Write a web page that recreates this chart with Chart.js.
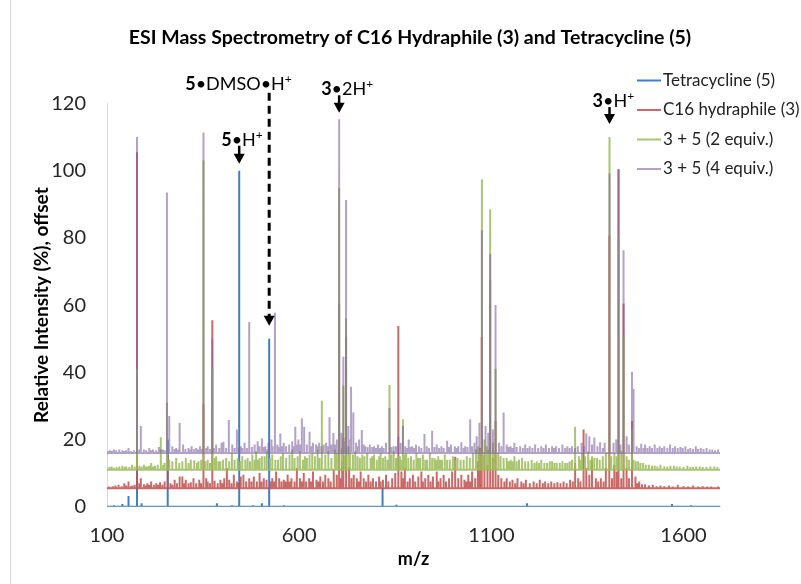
<!DOCTYPE html>
<html>
<head>
<meta charset="utf-8">
<script src="https://cdn.jsdelivr.net/npm/chart.js@4.4.1/dist/chart.umd.min.js"></script>
<style>
  html, body { margin: 0; padding: 0; background: #fff; }
  #wrap { width: 801px; height: 584px; position: relative; }
</style>
</head>
<body>
<div id="wrap"><canvas id="ms-chart" width="801" height="584"></canvas></div>
<script>
// ---- Data (m/z, relative intensity %) ----
const chartTitle = 'ESI Mass Spectrometry of C16 Hydraphile (3) and Tetracycline (5)';
const seriesNames = ['Tetracycline (5)', 'C16 hydraphile (3)', '3 + 5 (2 equiv.)', '3 + 5 (4 equiv.)'];
const seriesOffsets = [0, 5.5, 11, 16];
const xRange = [100, 1695];
const xTicks = [100, 600, 1100, 1600];
const yTicks = [0, 20, 40, 60, 80, 100, 120];

const tetracycline = [
    [118, 0.4], [140, 0.8], [156, 3.2], [178, 15], [190, 1], [210, 0.3], [258, 20], [300, 0.3],
    [386, 1], [425, 0.4], [444, 100], [480, 0.4], [503, 1], [522, 50], [560, 0.4], [817, 5.5],
    [853, 0.6], [1000, 0.3], [1193, 1], [1400, 0.3], [1570, 0.8], [1620, 0.4]
];

const hydraphile = [
    [106, 0.5], [115, 0.6], [122, 0.8], [130, 1], [138, 0.6], [145, 1.5], [150, 0.8], [156, 2],
    [162, 0.6], [166, 0.8], [172, 1], [178, 100], [184, 1.5], [188, 3], [196, 1.2], [200, 0.8],
    [205, 1.5], [210, 1], [215, 2], [222, 1], [228, 1.5], [233, 1], [238, 1.8], [244, 1],
    [250, 2], [258, 10], [265, 1.5], [270, 1], [276, 2.5], [282, 1.5], [289, 3.5], [296, 3.5],
    [300, 1.5], [305, 2.5], [312, 1.5], [318, 1.8], [325, 3], [332, 1.5], [340, 2.5], [345, 1.5],
    [351, 25], [358, 3], [362, 2], [368, 1.5], [374, 50], [380, 2.2], [388, 1.5], [395, 2.5],
    [400, 1.5], [405, 3], [412, 6], [418, 2.5], [424, 1.5], [430, 4], [438, 2], [443, 1.5],
    [448, 3.5], [455, 4], [462, 2], [470, 3], [476, 2], [482, 3.5], [490, 2], [497, 4.5],
    [502, 2], [508, 3], [515, 2.5], [526, 2], [530, 3], [535, 2], [540, 5], [548, 3],
    [554, 2], [560, 2.5], [565, 2], [570, 4], [575, 2], [580, 3], [588, 2], [594, 6],
    [602, 3], [607, 2], [612, 4.5], [618, 2], [626, 3], [631, 2], [636, 5], [645, 2.5],
    [650, 2], [655, 3.5], [662, 2], [668, 4], [676, 3], [682, 2], [690, 5.5], [698, 4],
    [704, 55], [708, 3], [712, 8], [715, 15], [722, 45], [730, 6], [736, 3], [742, 4],
    [750, 3], [755, 2], [760, 5], [768, 3], [774, 2], [780, 4], [786, 2], [792, 3],
    [800, 2], [808, 3.5], [812, 2], [818, 2.5], [826, 4], [832, 2], [842, 3], [850, 4.5],
    [858, 48.3], [866, 5], [870, 3], [875, 6], [882, 2], [888, 3], [896, 4], [902, 2],
    [910, 3.5], [918, 5], [922, 2], [928, 3], [936, 4], [942, 2], [948, 3.5], [958, 5],
    [962, 2], [968, 3], [976, 4], [982, 2], [990, 3], [998, 5], [1006, 9.4], [1014, 3],
    [1022, 4], [1030, 2.5], [1035, 2], [1040, 4], [1045, 2], [1050, 5], [1058, 3], [1065, 8],
    [1070, 12], [1075, 45], [1082, 10], [1090, 7], [1097, 62], [1104, 9], [1111, 20], [1118, 4],
    [1126, 3], [1134, 2], [1140, 3], [1148, 2], [1155, 2.5], [1162, 1.5], [1168, 3], [1178, 2],
    [1184, 1.5], [1190, 2.5], [1200, 1.5], [1210, 2], [1218, 1.5], [1226, 2.5], [1234, 1.5], [1240, 2],
    [1248, 1.5], [1256, 2], [1264, 1.5], [1272, 1.8], [1280, 1.5], [1288, 2], [1296, 1.5], [1305, 2.5],
    [1312, 2], [1318, 7.5], [1326, 3], [1332, 2], [1340, 17.5], [1347, 6], [1355, 4], [1362, 8],
    [1372, 3], [1378, 2], [1385, 3], [1392, 2], [1398, 6], [1407, 75], [1414, 3], [1420, 7],
    [1426, 5], [1431, 95], [1438, 3], [1444, 55], [1452, 6], [1458, 3], [1466, 20], [1475, 3.5],
    [1480, 1.5], [1485, 2], [1492, 1.2], [1500, 1.2], [1510, 0.8], [1520, 1], [1530, 0.6], [1540, 0.8],
    [1550, 0.6], [1562, 0.8], [1572, 0.5], [1585, 1], [1600, 0.6], [1612, 0.5], [1625, 0.8], [1638, 0.5],
    [1650, 0.6], [1662, 0.5], [1672, 0.5], [1690, 0.5]
];

const mix2equiv = [
    [106, 0.8], [112, 1], [118, 0.6], [125, 0.8], [132, 1], [140, 1.2], [146, 0.8], [150, 1],
    [158, 0.8], [165, 1.5], [172, 1], [178, 30], [184, 1.2], [190, 1], [196, 1.5], [200, 1],
    [205, 1], [210, 1.2], [215, 2], [220, 1], [225, 1.2], [232, 1.5], [240, 9.7], [246, 1.5],
    [250, 2], [256, 20], [262, 3], [270, 2.5], [280, 3.5], [288, 2], [296, 2.5], [305, 3.5],
    [312, 2], [318, 3], [327, 2.8], [334, 2], [338, 2.5], [345, 3], [351, 92], [356, 2.5],
    [362, 3], [368, 2], [374, 30], [380, 3.5], [384, 4], [390, 2.5], [395, 2.5], [402, 3],
    [410, 3.5], [418, 2.5], [425, 5], [432, 3], [440, 3.5], [446, 2.5], [452, 4], [460, 3],
    [466, 3.5], [472, 2.5], [478, 4.5], [484, 3], [488, 5.5], [492, 3], [497, 3.5], [503, 4],
    [510, 4], [516, 6], [524, 3.5], [530, 4.5], [538, 3], [545, 3], [552, 4], [558, 5],
    [566, 3.5], [575, 4.5], [582, 6], [588, 3.5], [596, 4], [602, 5.5], [610, 3], [615, 4],
    [620, 3.5], [627, 4.5], [634, 5], [641, 4], [648, 6], [653, 3.5], [659, 20.5], [668, 4.5],
    [676, 5.5], [684, 3.5], [693, 6], [698, 5], [704, 83.8], [711, 6.5], [715, 25], [718, 4],
    [722, 45], [728, 7], [732, 5], [740, 4.5], [746, 5.5], [752, 4], [758, 3.5], [764, 4.5],
    [770, 4], [777, 5], [786, 3.5], [790, 4], [795, 4.5], [802, 3], [808, 4], [812, 5],
    [818, 3.5], [824, 4], [830, 3], [835, 25.2], [840, 4.5], [846, 5.5], [852, 3.5], [857, 4],
    [862, 4], [866, 3], [870, 15], [875, 4.5], [878, 5], [884, 3.5], [891, 4], [898, 3],
    [905, 5], [910, 3.5], [915, 3.5], [922, 4.5], [928, 3], [933, 3], [940, 5], [946, 3.5],
    [952, 3.5], [957, 3], [962, 4], [967, 3], [972, 3], [979, 4.5], [985, 3], [992, 3],
    [1000, 4], [1006, 3], [1012, 3.5], [1020, 3], [1028, 3], [1036, 4], [1044, 3.5], [1052, 5],
    [1060, 6], [1066, 7], [1070, 6], [1075.5, 86.4], [1082, 9], [1088, 7], [1092, 6], [1097, 77.5],
    [1104, 8], [1108, 5], [1111, 30], [1118, 5], [1124, 4], [1132, 3.5], [1140, 3.5], [1145, 2.5],
    [1150, 3], [1155, 2.5], [1160, 4], [1166, 2.5], [1172, 3], [1180, 3.5], [1188, 2.5], [1196, 2.5],
    [1205, 3], [1212, 2], [1218, 2.5], [1224, 2], [1230, 3], [1238, 2], [1245, 2], [1252, 2.5],
    [1258, 2.5], [1264, 2], [1270, 2], [1278, 2], [1285, 2.5], [1292, 2], [1298, 2], [1304, 2.5],
    [1310, 3], [1318, 12.8], [1328, 4], [1332, 3], [1336, 5], [1344, 4], [1352, 5.5], [1358, 3],
    [1362, 4], [1368, 3.5], [1375, 3.5], [1382, 3], [1390, 4], [1398, 5], [1407.5, 99], [1412, 4],
    [1420, 5], [1426, 4], [1431, 70], [1438, 5.5], [1444, 40], [1452, 4], [1458, 3], [1466, 12],
    [1470, 3], [1476, 2.5], [1482, 2.5], [1488, 2], [1495, 2], [1502, 1.5], [1510, 1.5], [1518, 1.2],
    [1525, 1.2], [1532, 1], [1540, 1.5], [1550, 1], [1558, 1], [1566, 1.2], [1575, 1.2], [1582, 1],
    [1590, 1], [1600, 0.8], [1610, 1.2], [1618, 0.8], [1625, 0.8], [1633, 1], [1642, 1], [1650, 0.8],
    [1660, 0.8], [1670, 1], [1680, 1], [1688, 0.8]
];

const mix4equiv = [
    [104, 0.6], [108, 0.8], [113, 0.6], [118, 1], [124, 0.8], [132, 1], [140, 0.8], [145, 0.6],
    [150, 0.8], [156, 1.5], [162, 0.6], [170, 0.8], [178, 94], [184, 1], [188, 8], [196, 1],
    [202, 0.8], [210, 1.5], [215, 0.8], [220, 1], [228, 0.8], [235, 1.8], [240, 1], [245, 1],
    [250, 0.8], [256, 77.5], [262, 11], [270, 2], [276, 1.2], [280, 1.5], [284, 1], [289, 9],
    [298, 2.5], [304, 1.2], [312, 1.5], [316, 1], [320, 2], [326, 1.2], [332, 1.5], [337, 1],
    [342, 2], [346, 1.2], [351, 95.4], [358, 1.5], [362, 2], [368, 1.2], [374, 34], [378, 1.5],
    [384, 2.5], [392, 1.5], [398, 3], [403, 3.3], [410, 1.5], [417, 9.8], [426, 2.5], [432, 1.5],
    [438, 7], [444, 1.5], [448, 2], [452, 1.5], [458, 3], [464, 1.5], [470, 39], [477, 1.8],
    [484, 2.5], [492, 3.5], [497, 2], [503, 4.3], [508, 1.8], [512, 2], [520, 3], [528, 4],
    [531, 2], [537, 41.7], [543, 2.5], [548, 1.8], [551, 5.8], [556, 2], [560, 3], [566, 2],
    [574, 2.5], [582, 3.5], [586, 2], [590, 7.8], [594, 2.5], [598, 4], [602, 2.5], [607, 10.3],
    [613, 7.8], [620, 2.5], [627, 6.3], [632, 2], [636, 3], [644, 2.5], [648, 2], [652, 3],
    [658, 2], [664, 2.5], [670, 3], [674, 2], [679, 10.6], [684, 2.5], [689, 5.9], [694, 2.5],
    [698, 4], [704, 99.3], [710, 6], [715, 28.6], [718, 3.5], [722, 75.3], [728, 8], [731, 4],
    [735, 19.7], [741, 12], [748, 3], [752, 2], [756, 4], [763, 6.8], [768, 2.5], [772, 2],
    [778, 1.8], [784, 2.5], [790, 1.8], [795, 2], [800, 1.5], [805, 2.5], [810, 1.5], [815, 2],
    [820, 1.5], [826, 3], [835, 13.4], [840, 1.8], [846, 2], [852, 2], [858, 4.8], [864, 3],
    [870, 8], [876, 2], [881, 1.5], [885, 4], [890, 1.8], [894, 2], [899, 1.5], [904, 2.5],
    [912, 2], [918, 1.5], [926, 5.6], [932, 2], [938, 1.5], [946, 6.6], [952, 1.8], [958, 2.5],
    [964, 1.5], [970, 2], [976, 1.5], [985, 3.6], [990, 1.8], [995, 2.5], [1005, 2], [1010, 1.5],
    [1014, 2], [1022, 3.2], [1028, 1.5], [1032, 2], [1038, 1.8], [1045, 10], [1050, 2], [1056, 3],
    [1062, 5], [1069, 9], [1075.5, 66.3], [1085, 8], [1092, 6], [1097, 59.2], [1104, 7], [1111, 44],
    [1120, 3], [1126, 2], [1132, 12], [1140, 2.5], [1145, 1.8], [1150, 2], [1155, 1.5], [1160, 3],
    [1166, 1.8], [1175, 2], [1182, 1.5], [1188, 2.5], [1194, 1.5], [1200, 2], [1207, 1.5], [1214, 2.5],
    [1222, 1.5], [1230, 2], [1236, 1.5], [1242, 2.5], [1250, 1.5], [1258, 2], [1263, 1.5], [1268, 2],
    [1276, 1.5], [1285, 2.5], [1292, 1.5], [1298, 2], [1304, 1.5], [1310, 2], [1318, 1.5], [1325, 2],
    [1335, 3], [1341, 2], [1347, 5.8], [1355, 5], [1362, 2.5], [1368, 4.6], [1376, 2], [1383, 3.2],
    [1390, 1.5], [1395, 3], [1407.5, 83.2], [1418, 3], [1425, 4], [1431, 84.2], [1436, 2.5], [1444, 60.3],
    [1452, 5], [1458, 2.5], [1466, 24.2], [1470, 19], [1478, 2], [1484, 1.5], [1490, 2.7], [1496, 1.5],
    [1500, 2.5], [1506, 1.5], [1512, 2], [1518, 1.5], [1525, 2.5], [1532, 1.5], [1538, 2], [1544, 1.5],
    [1550, 2], [1558, 1.5], [1565, 2.5], [1572, 1.5], [1578, 2], [1585, 1.5], [1592, 1.8], [1598, 1.5],
    [1605, 2], [1612, 1.2], [1618, 1.5], [1625, 1.2], [1632, 2], [1638, 1.2], [1645, 1.5], [1652, 1.2],
    [1660, 1.5], [1668, 1], [1675, 1], [1682, 0.8], [1690, 1]
];

const seriesPeaks = [tetracycline, hydraphile, mix2equiv, mix4equiv];
const seriesColors = ['rgba(66,126,200,1)', 'rgba(192,80,77,0.85)', 'rgba(155,187,89,0.85)', 'rgba(128,100,162,0.6)'];

// labelled peaks; dx/dy etc. are pixel offsets from the peak top
const peakCallouts = [
    { mz: 444, series: 0, parts: [['5', 1], ['•', 0], ['H', 0], ['+', 2]], dx: -18, labelDy: -31, from: -25, to: -7 },
    { mz: 522, series: 0, parts: [['5', 1], ['•', 0], ['DMSO', 0], ['•', 0], ['H', 0], ['+', 2]], dx: -84, labelDy: -255, from: -246, to: -13, dashed: true },
    { mz: 704, series: 3, parts: [['3', 1], ['•', 0], ['2H', 0], ['+', 2]], dx: -18, labelDy: -31, from: -24, to: -6.5 },
    { mz: 1407.5, series: 2, parts: [['3', 1], ['•', 0], ['H', 0], ['+', 2]], dx: -17, labelDy: -37, from: -30, to: -13 }
];

const FONT = 'Lato, "Open Sans", sans-serif';

// turn a peak list into a stick spectrum sitting on its offset baseline
function stickSpectrum(peaks, offset) {
    const pts = [{ x: xRange[0], y: offset }];
    peaks.slice().sort((a, b) => a[0] - b[0]).forEach(([mz, h]) => {
        pts.push({ x: mz, y: offset }, { x: mz, y: offset + h }, { x: mz, y: offset });
    });
    pts.push({ x: xRange[1], y: offset });
    return pts;
}

function peakTop(callout) {
    const found = seriesPeaks[callout.series].find(p => p[0] === callout.mz);
    return seriesOffsets[callout.series] + (found ? found[1] : 0);
}

function partFont(style) {
    if (style === 2) return '12px ' + FONT;
    return (style === 1 ? 'bold ' : '') + '18px ' + FONT;
}

function drawParts(ctx, parts, x, y) {
    parts.forEach(([txt, style]) => {
        ctx.font = partFont(style);
        ctx.fillText(txt, x, style === 2 ? y - 7 : y);
        x += ctx.measureText(txt).width;
    });
}

function drawArrow(ctx, x, y1, y2, dashed) {
    ctx.save();
    ctx.strokeStyle = '#000';
    ctx.fillStyle = '#000';
    ctx.lineWidth = dashed ? 3 : 2.5;
    if (dashed) ctx.setLineDash([8, 5]);
    ctx.beginPath();
    ctx.moveTo(x, y1);
    ctx.lineTo(x, y2 - 8);
    ctx.stroke();
    ctx.setLineDash([]);
    ctx.beginPath();
    ctx.moveTo(x - 5.5, y2 - 10);
    ctx.lineTo(x + 5.5, y2 - 10);
    ctx.lineTo(x, y2);
    ctx.closePath();
    ctx.fill();
    ctx.restore();
}

const decorPlugin = {
    id: 'decor',
    beforeDraw(chart) {
        const ctx = chart.ctx;
        ctx.save();
        ctx.fillStyle = '#fff';
        ctx.fillRect(0, 0, chart.width, chart.height);
        ctx.strokeStyle = '#d9d9d9';
        ctx.lineWidth = 1;
        ctx.beginPath();
        ctx.moveTo(10.5, 0);
        ctx.lineTo(10.5, chart.height);
        ctx.stroke();
        ctx.restore();
    },
    afterDraw(chart) {
        const ctx = chart.ctx;
        const { x: xs, y: ys } = chart.scales;
        ctx.save();

        // title
        ctx.fillStyle = '#000';
        ctx.font = 'bold 19.5px ' + FONT;
        ctx.textAlign = 'center';
        ctx.textBaseline = 'middle';
        ctx.fillText(chartTitle, 410, 38);

        // legend
        ctx.textAlign = 'left';
        ctx.font = '17px ' + FONT;
        seriesNames.forEach((name, i) => {
            const y = 80.5 + i * 29.5;
            ctx.strokeStyle = seriesColors[i];
            ctx.lineWidth = 2;
            ctx.beginPath();
            ctx.moveTo(637, y);
            ctx.lineTo(661, y);
            ctx.stroke();
            ctx.fillStyle = '#222';
            ctx.fillText(name, 663, y);
        });

        // peak call-outs
        ctx.textBaseline = 'alphabetic';
        ctx.fillStyle = '#000';
        peakCallouts.forEach(c => {
            const px = xs.getPixelForValue(c.mz);
            const py = ys.getPixelForValue(peakTop(c));
            drawParts(ctx, c.parts, px + c.dx, py + c.labelDy + 6.5);
            drawArrow(ctx, px, py + c.from, py + c.to, c.dashed);
        });
        ctx.restore();
    }
};

const datasets = seriesNames.map((name, i) => ({
    label: name,
    data: stickSpectrum(seriesPeaks[i], seriesOffsets[i]),
    borderColor: seriesColors[i],
    borderWidth: 2,
    pointRadius: 0,
    fill: false,
    tension: 0,
    order: 3 - i
}));

new Chart(document.getElementById('ms-chart'), {
    type: 'line',
    data: { datasets },
    options: {
        responsive: false,
        devicePixelRatio: 1,
        animation: false,
        events: [],
        layout: { padding: { top: 103.5, right: 81, bottom: 14, left: 0 } },
        plugins: {
            legend: { display: false },
            title: { display: false },
            tooltip: { enabled: false }
        },
        scales: {
            x: {
                type: 'linear',
                min: xRange[0],
                max: xRange[1],
                grid: { display: false, drawTicks: false },
                border: { display: true, color: '#d9d9d9', width: 1 },
                afterBuildTicks: scale => { scale.ticks = xTicks.map(v => ({ value: v })); },
                afterFit: scale => { scale.height = 584 - 506.7 - 14; },
                ticks: { padding: 17, color: '#262626', font: { family: FONT, size: 20 }, callback: v => String(v) },
                title: { display: true, text: 'm/z', color: '#000', padding: { top: 0, bottom: 0 }, font: { family: FONT, size: 18, weight: 'bold' } }
            },
            y: {
                min: 0,
                max: 120,
                grid: { display: false, drawTicks: false },
                border: { display: true, color: '#d9d9d9', width: 1 },
                afterBuildTicks: scale => { scale.ticks = yTicks.map(v => ({ value: v })); },
                afterFit: scale => { scale.width = 107; },
                ticks: { padding: 21, color: '#262626', font: { family: FONT, size: 20 }, callback: v => String(v) },
                title: { display: true, text: 'Relative Intensity (%), offset', color: '#000', padding: { top: 30, bottom: 0 }, font: { family: FONT, size: 19, weight: 'bold' } }
            }
        }
    },
    plugins: [decorPlugin]
});
</script>
</body>
</html>
